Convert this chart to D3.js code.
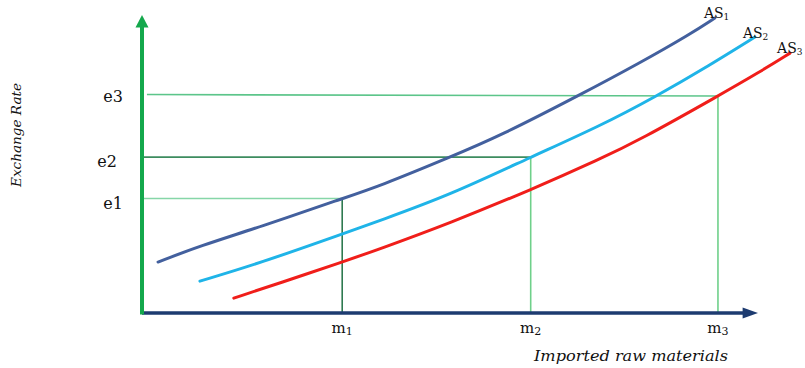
<!DOCTYPE html>
<html>
<head>
<meta charset="utf-8">
<script src="https://cdn.jsdelivr.net/npm/d3@7"></script>
<style>
  html, body { margin: 0; padding: 0; background: #fff; }
  svg { display: block; }
  text { font-family: "DejaVu Serif", "Liberation Serif", serif; fill: #111; }
</style>
</head>
<body>
<svg id="chart" width="805" height="368"></svg>
<script>
// ---- data (abstract units, 0-100 on each axis) ----
const as1X = [2.6, 9.4, 19.2, 32.5, 38.6, 50.0, 58.1, 71.1, 80.8, 89.0, 93.0];
const as1Y = [17.1, 22.5, 28.9, 38.4, 42.6, 52.3, 59.4, 73.2, 83.9, 93.6, 99.0];
const as2X = [9.4, 19.2, 32.5, 38.6, 50.0, 63.1, 74.4, 83.3, 92.2, 99.5];
const as2Y = [10.7, 16.8, 26.5, 31.0, 39.6, 52.3, 62.8, 72.5, 83.2, 92.6];
const as3X = [14.9, 22.4, 32.5, 38.6, 50.0, 63.1, 74.4, 80.8, 93.5, 100.3, 105.2];
const as3Y = [5.0, 10.1, 17.1, 21.5, 30.2, 41.3, 51.7, 58.1, 72.8, 80.9, 87.2];
const seriesNames = ["AS", "AS", "AS"];
const seriesSubs = ["1", "2", "3"];
const mLevels = [32.5, 63.1, 93.5];
const mLabels = ["1", "2", "3"];
const eLevels = [38.4, 52.3, 72.8];
const eLabels = ["e1", "e2", "e3"];
const xTitle = "Imported raw materials";
const yTitle = "Exchange Rate";

const svg = d3.select("#chart");
const x = d3.scaleLinear().domain([0, 100]).range([142, 758]);
const y = d3.scaleLinear().domain([0, 100]).range([313, 15]);

// guide lines
const hColors = ["#86d6a8", "#3d8c5f", "#5cc58a"];
const vColors = ["#2f7a50", "#6fd08a", "#6fd08a"];
eLevels.forEach((e, i) => {
  svg.append("line")
    .attr("x1", i === 2 ? x(0.8) : x(0)).attr("x2", x(mLevels[i]))
    .attr("y1", i === 2 ? y(e) - 1.5 : y(e)).attr("y2", y(e))
    .attr("stroke", hColors[i]).attr("stroke-width", 1.6);
  svg.append("line")
    .attr("x1", x(mLevels[i])).attr("x2", x(mLevels[i]))
    .attr("y1", y(e)).attr("y2", y(0))
    .attr("stroke", vColors[i]).attr("stroke-width", 1.6);
});

// curves
const series = [
  {xs: as1X, ys: as1Y, color: "#43609e"},
  {xs: as2X, ys: as2Y, color: "#1fb4e8"},
  {xs: as3X, ys: as3Y, color: "#f01e1a"}
];
const line = d3.line().x(d => x(d[0])).y(d => y(d[1])).curve(d3.curveBasis);
series.forEach(s => {
  svg.append("path")
    .attr("d", line(s.xs.map((v, i) => [v, s.ys[i]])))
    .attr("fill", "none").attr("stroke", s.color)
    .attr("stroke-width", 3).attr("stroke-linecap", "round");
});

// series labels
const labelOff = [[-11, 0], [-12, 1], [-13, 0]];
series.forEach((s, i) => {
  const n = s.xs.length - 1;
  const t = svg.append("text")
    .attr("x", x(s.xs[n]) + labelOff[i][0])
    .attr("y", y(s.ys[n]) + labelOff[i][1])
    .attr("font-size", 14);
  t.append("tspan").text(seriesNames[i]);
  t.append("tspan").attr("font-size", 9).attr("dy", 2).text(seriesSubs[i]);
});

// axes
svg.append("line")
  .attr("x1", x(0)).attr("x2", x(98.4))
  .attr("y1", y(0)).attr("y2", y(0))
  .attr("stroke", "#1d3b70").attr("stroke-width", 3.5);
svg.append("path")
  .attr("d", `M${x(100)},${y(0)} L${x(97.5)},${y(0) - 5.5} L${x(97.5)},${y(0) + 5.5} Z`)
  .attr("fill", "#1d3b70");
svg.append("line")
  .attr("x1", x(0)).attr("x2", x(0))
  .attr("y1", y(0) + 1.5).attr("y2", y(96))
  .attr("stroke", "#14a84c").attr("stroke-width", 4);
svg.append("path")
  .attr("d", `M${x(0)},${y(100)} L${x(0) - 6.5},${y(95.8)} L${x(0) + 6.5},${y(95.8)} Z`)
  .attr("fill", "#14a84c");

// e labels
const eLabelX = [123, 117, 123];
const eLabelDy = [10.5, 10, 5.5];
eLevels.forEach((e, i) => {
  svg.append("text")
    .attr("x", eLabelX[i]).attr("y", y(e) + eLabelDy[i])
    .attr("text-anchor", "end").attr("font-size", 16)
    .text(eLabels[i]);
});

// m labels
mLevels.forEach((m, i) => {
  const t = svg.append("text")
    .attr("x", x(m)).attr("y", 333)
    .attr("text-anchor", "middle").attr("font-size", 15);
  t.append("tspan").text("m");
  t.append("tspan").attr("font-size", 11).attr("dy", 2).text(mLabels[i]);
});

// axis titles
svg.append("text")
  .attr("x", 631).attr("y", 361)
  .attr("text-anchor", "middle").attr("font-size", 14)
  .attr("font-style", "italic")
  .attr("textLength", 194).attr("lengthAdjust", "spacingAndGlyphs")
  .text(xTitle);
svg.append("text")
  .attr("transform", "translate(21,135) rotate(-90)")
  .attr("text-anchor", "middle").attr("font-size", 13)
  .attr("font-style", "italic")
  .attr("textLength", 104).attr("lengthAdjust", "spacingAndGlyphs")
  .text(yTitle);
</script>
</body>
</html>
